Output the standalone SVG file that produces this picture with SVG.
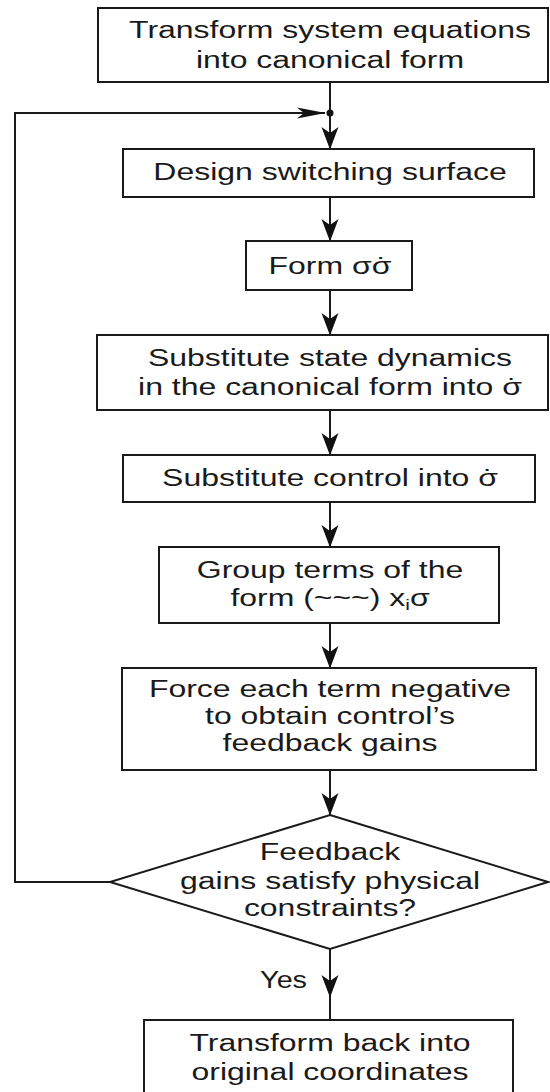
<svg xmlns="http://www.w3.org/2000/svg" width="550" height="1092" viewBox="0 0 550 1092">
<style>
.box{fill:#fff;stroke:#1a1a1a;stroke-width:2}
.ln{fill:none;stroke:#1a1a1a;stroke-width:2}
.t{font-family:"Liberation Sans",Arial,Helvetica,sans-serif;font-size:23px;fill:#1a1a1a;text-anchor:middle}
.te{text-anchor:end}
</style>
<defs>
<marker id="ah" viewBox="-24 -10 26 20" refX="0" refY="0" markerWidth="26" markerHeight="20" markerUnits="userSpaceOnUse" orient="auto">
<path d="M0.5,0 L-22,-8.5 L-16,0 L-22,8.5 Z" fill="#111"/>
</marker>
<marker id="ahh" viewBox="-30 -7 32 14" refX="0" refY="0" markerWidth="32" markerHeight="14" markerUnits="userSpaceOnUse" orient="auto">
<path d="M0.5,0 L-28,-5.5 L-21,0 L-28,5.5 Z" fill="#111"/>
</marker>
</defs>
<rect width="550" height="1092" fill="#fff"/>
<g id="connectors">
<path class="ln" d="M330,82 V113"/>
<path class="ln" d="M330,113 V149" marker-end="url(#ah)"/>
<path class="ln" d="M330,197 V241" marker-end="url(#ah)"/>
<path class="ln" d="M330,290 V335" marker-end="url(#ah)"/>
<path class="ln" d="M330,410 V455" marker-end="url(#ah)"/>
<path class="ln" d="M330,502 V547" marker-end="url(#ah)"/>
<path class="ln" d="M330,623 V668" marker-end="url(#ah)"/>
<path class="ln" d="M330,770 V815" marker-end="url(#ah)"/>
<path class="ln" d="M330,949 V997" marker-end="url(#ah)"/>
<path class="ln" d="M330,997 V1020"/>
<path class="ln" d="M110,882 H15 V113 H325" marker-end="url(#ahh)"/>
<circle cx="330" cy="113" r="3.5" fill="#111"/>
<text class="t te" transform="translate(307,988) scale(1.25,1)">Yes</text>
</g>
<g id="n1">
<rect class="box" x="98" y="8" width="450" height="74"/>
<text class="t" transform="translate(330,38) scale(1.39,1)">Transform system equations</text>
<text class="t" transform="translate(330,68) scale(1.39,1)">into canonical form</text>
</g>
<g id="n2">
<rect class="box" x="123" y="149" width="411" height="48"/>
<text class="t" transform="translate(330,180) scale(1.39,1)">Design switching surface</text>
</g>
<g id="n3">
<rect class="box" x="246" y="241" width="166" height="49"/>
<text class="t" transform="translate(330,274) scale(1.39,1)">Form σσ<tspan dx="-10.5">˙</tspan></text>
</g>
<g id="n4">
<rect class="box" x="97" y="335" width="451" height="75"/>
<text class="t" transform="translate(330,366) scale(1.39,1)">Substitute state dynamics</text>
<text class="t" transform="translate(330,395) scale(1.39,1)">in the canonical form into σ<tspan dx="-10.5">˙</tspan></text>
</g>
<g id="n5">
<rect class="box" x="123" y="455" width="412" height="47"/>
<text class="t" transform="translate(330,486) scale(1.39,1)">Substitute control into σ<tspan dx="-10.5">˙</tspan></text>
</g>
<g id="n6">
<rect class="box" x="159" y="547" width="340" height="76"/>
<text class="t" transform="translate(330,578) scale(1.39,1)">Group terms of the</text>
<text class="t" transform="translate(330,606) scale(1.39,1)">form (~~~) x<tspan font-size="15" dy="4">i</tspan><tspan dy="-4">σ</tspan></text>
</g>
<g id="n7">
<rect class="box" x="122" y="668" width="414" height="102"/>
<text class="t" transform="translate(330,697) scale(1.39,1)">Force each term negative</text>
<text class="t" transform="translate(330,724) scale(1.39,1)">to obtain control’s</text>
<text class="t" transform="translate(330,751) scale(1.39,1)">feedback gains</text>
</g>
<g id="n8">
<polygon class="box" points="330,815 548,882 330,949 110,882"/>
<text class="t" transform="translate(330,860) scale(1.39,1)">Feedback</text>
<text class="t" transform="translate(330,889) scale(1.39,1)">gains satisfy physical</text>
<text class="t" transform="translate(330,916) scale(1.39,1)">constraints?</text>
</g>
<g id="n9">
<rect class="box" x="144" y="1020" width="369" height="80"/>
<text class="t" transform="translate(330,1051) scale(1.39,1)">Transform back into</text>
<text class="t" transform="translate(330,1080) scale(1.39,1)">original coordinates</text>
</g>
</svg>
